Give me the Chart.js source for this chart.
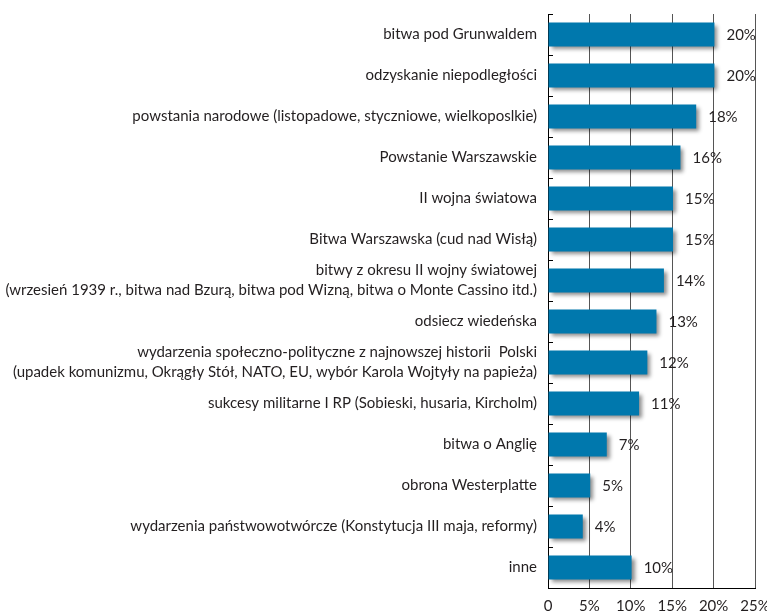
<!DOCTYPE html>
<html><head><meta charset="utf-8">
<script src="https://cdn.jsdelivr.net/npm/chart.js@4/dist/chart.umd.min.js"></script>
<style>html,body{margin:0;padding:0;background:#fff}#wrap{width:767px;height:612px;position:relative}</style>
</head><body><div id="wrap"><canvas id="c"></canvas></div>
<script>
const categories = [
  'bitwa pod Grunwaldem',
  'odzyskanie niepodległości',
  'powstania narodowe (listopadowe, styczniowe, wielkoposlkie)',
  'Powstanie Warszawskie',
  'II wojna światowa',
  'Bitwa Warszawska (cud nad Wisłą)',
  ['bitwy z okresu II wojny światowej', '(wrzesień 1939 r., bitwa nad Bzurą, bitwa pod Wizną, bitwa o Monte Cassino itd.)'],
  'odsiecz wiedeńska',
  ['wydarzenia społeczno-polityczne z najnowszej historii  Polski', '(upadek komunizmu, Okrągły Stół, NATO, EU, wybór Karola Wojtyły na papieża)'],
  'sukcesy militarne I RP (Sobieski, husaria, Kircholm)',
  'bitwa o Anglię',
  'obrona Westerplatte',
  'wydarzenia państwowotwórcze (Konstytucja III maja, reformy)',
  'inne'
];
const values = [20.1, 20.1, 17.9, 16, 15.1, 15.1, 14, 13.1, 12, 11, 7.1, 5.1, 4.2, 10.1];
const valueLabels = ['20%', '20%', '18%', '16%', '15%', '15%', '14%', '13%', '12%', '11%', '7%', '5%', '4%', '10%'];
const xTickLabels = ['0', '5%', '10%', '15%', '20%', '25%'];

const FONT = 'Lato, "Liberation Sans", sans-serif';
const TEXT = '#231f20';

const decor = {
  id: 'decor',
  beforeDatasetsDraw(chart) {
    const ctx = chart.ctx;
    ctx.save();
    ctx.shadowColor = 'rgba(0,0,0,0.45)';
    ctx.shadowBlur = 4;
    ctx.shadowOffsetX = 3;
    ctx.shadowOffsetY = 3;
  },
  afterDatasetsDraw(chart) {
    const ctx = chart.ctx;
    ctx.restore();
    const meta = chart.getDatasetMeta(0);
    ctx.save();
    ctx.font = '15px ' + FONT;
    ctx.fillStyle = TEXT;
    ctx.textAlign = 'left';
    ctx.textBaseline = 'middle';
    meta.data.forEach((bar, i) => {
      ctx.fillText(valueLabels[i], bar.x + 12, bar.y + 1);
    });
    // inward tick marks on the category axis
    const ys = chart.scales.y, xs = chart.scales.x;
    const n = categories.length;
    ctx.strokeStyle = '#000';
    ctx.lineWidth = 1;
    ctx.beginPath();
    for (let i = 0; i <= n; i++) {
      const y = Math.round(ys.top + i * (ys.bottom - ys.top) / n) + 0.5;
      ctx.moveTo(xs.left, y);
      ctx.lineTo(xs.left + 5, y);
    }
    ctx.stroke();
    ctx.restore();
  }
};

new Chart(document.getElementById('c'), {
  type: 'bar',
  data: {
    labels: categories,
    datasets: [{
      data: values,
      backgroundColor: '#0078ad',
      borderWidth: 0,
      categoryPercentage: 1,
      barPercentage: 0.585
    }]
  },
  options: {
    indexAxis: 'y',
    responsive: true,
    maintainAspectRatio: false,
    animation: false,
    layout: { padding: { top: 14, right: 12, bottom: 0, left: 0 } },
    plugins: { legend: { display: false }, tooltip: { enabled: false } },
    scales: {
      x: {
        min: 0, max: 25,
        grid: { color: '#555', lineWidth: 1, drawTicks: false },
        border: { color: '#000', width: 1 },
        ticks: {
          stepSize: 5,
          padding: 9,
          maxRotation: 0,
          color: TEXT,
          font: { family: FONT, size: 15 },
          callback: (v, i) => xTickLabels[i]
        },
        afterFit: s => { s.height = 24; s.paddingLeft = 0; s.paddingRight = 0; }
      },
      y: {
        grid: { display: false, drawTicks: false },
        border: { color: '#000', width: 1 },
        ticks: {
          padding: 11,
          color: TEXT,
          font: { family: FONT, size: 15, lineHeight: 1.33 },
          autoSkip: false
        },
        afterFit: s => { s.width = 548; s.paddingTop = 0; s.paddingBottom = 0; }
      }
    }
  },
  plugins: [decor]
});
</script>
</body></html>
